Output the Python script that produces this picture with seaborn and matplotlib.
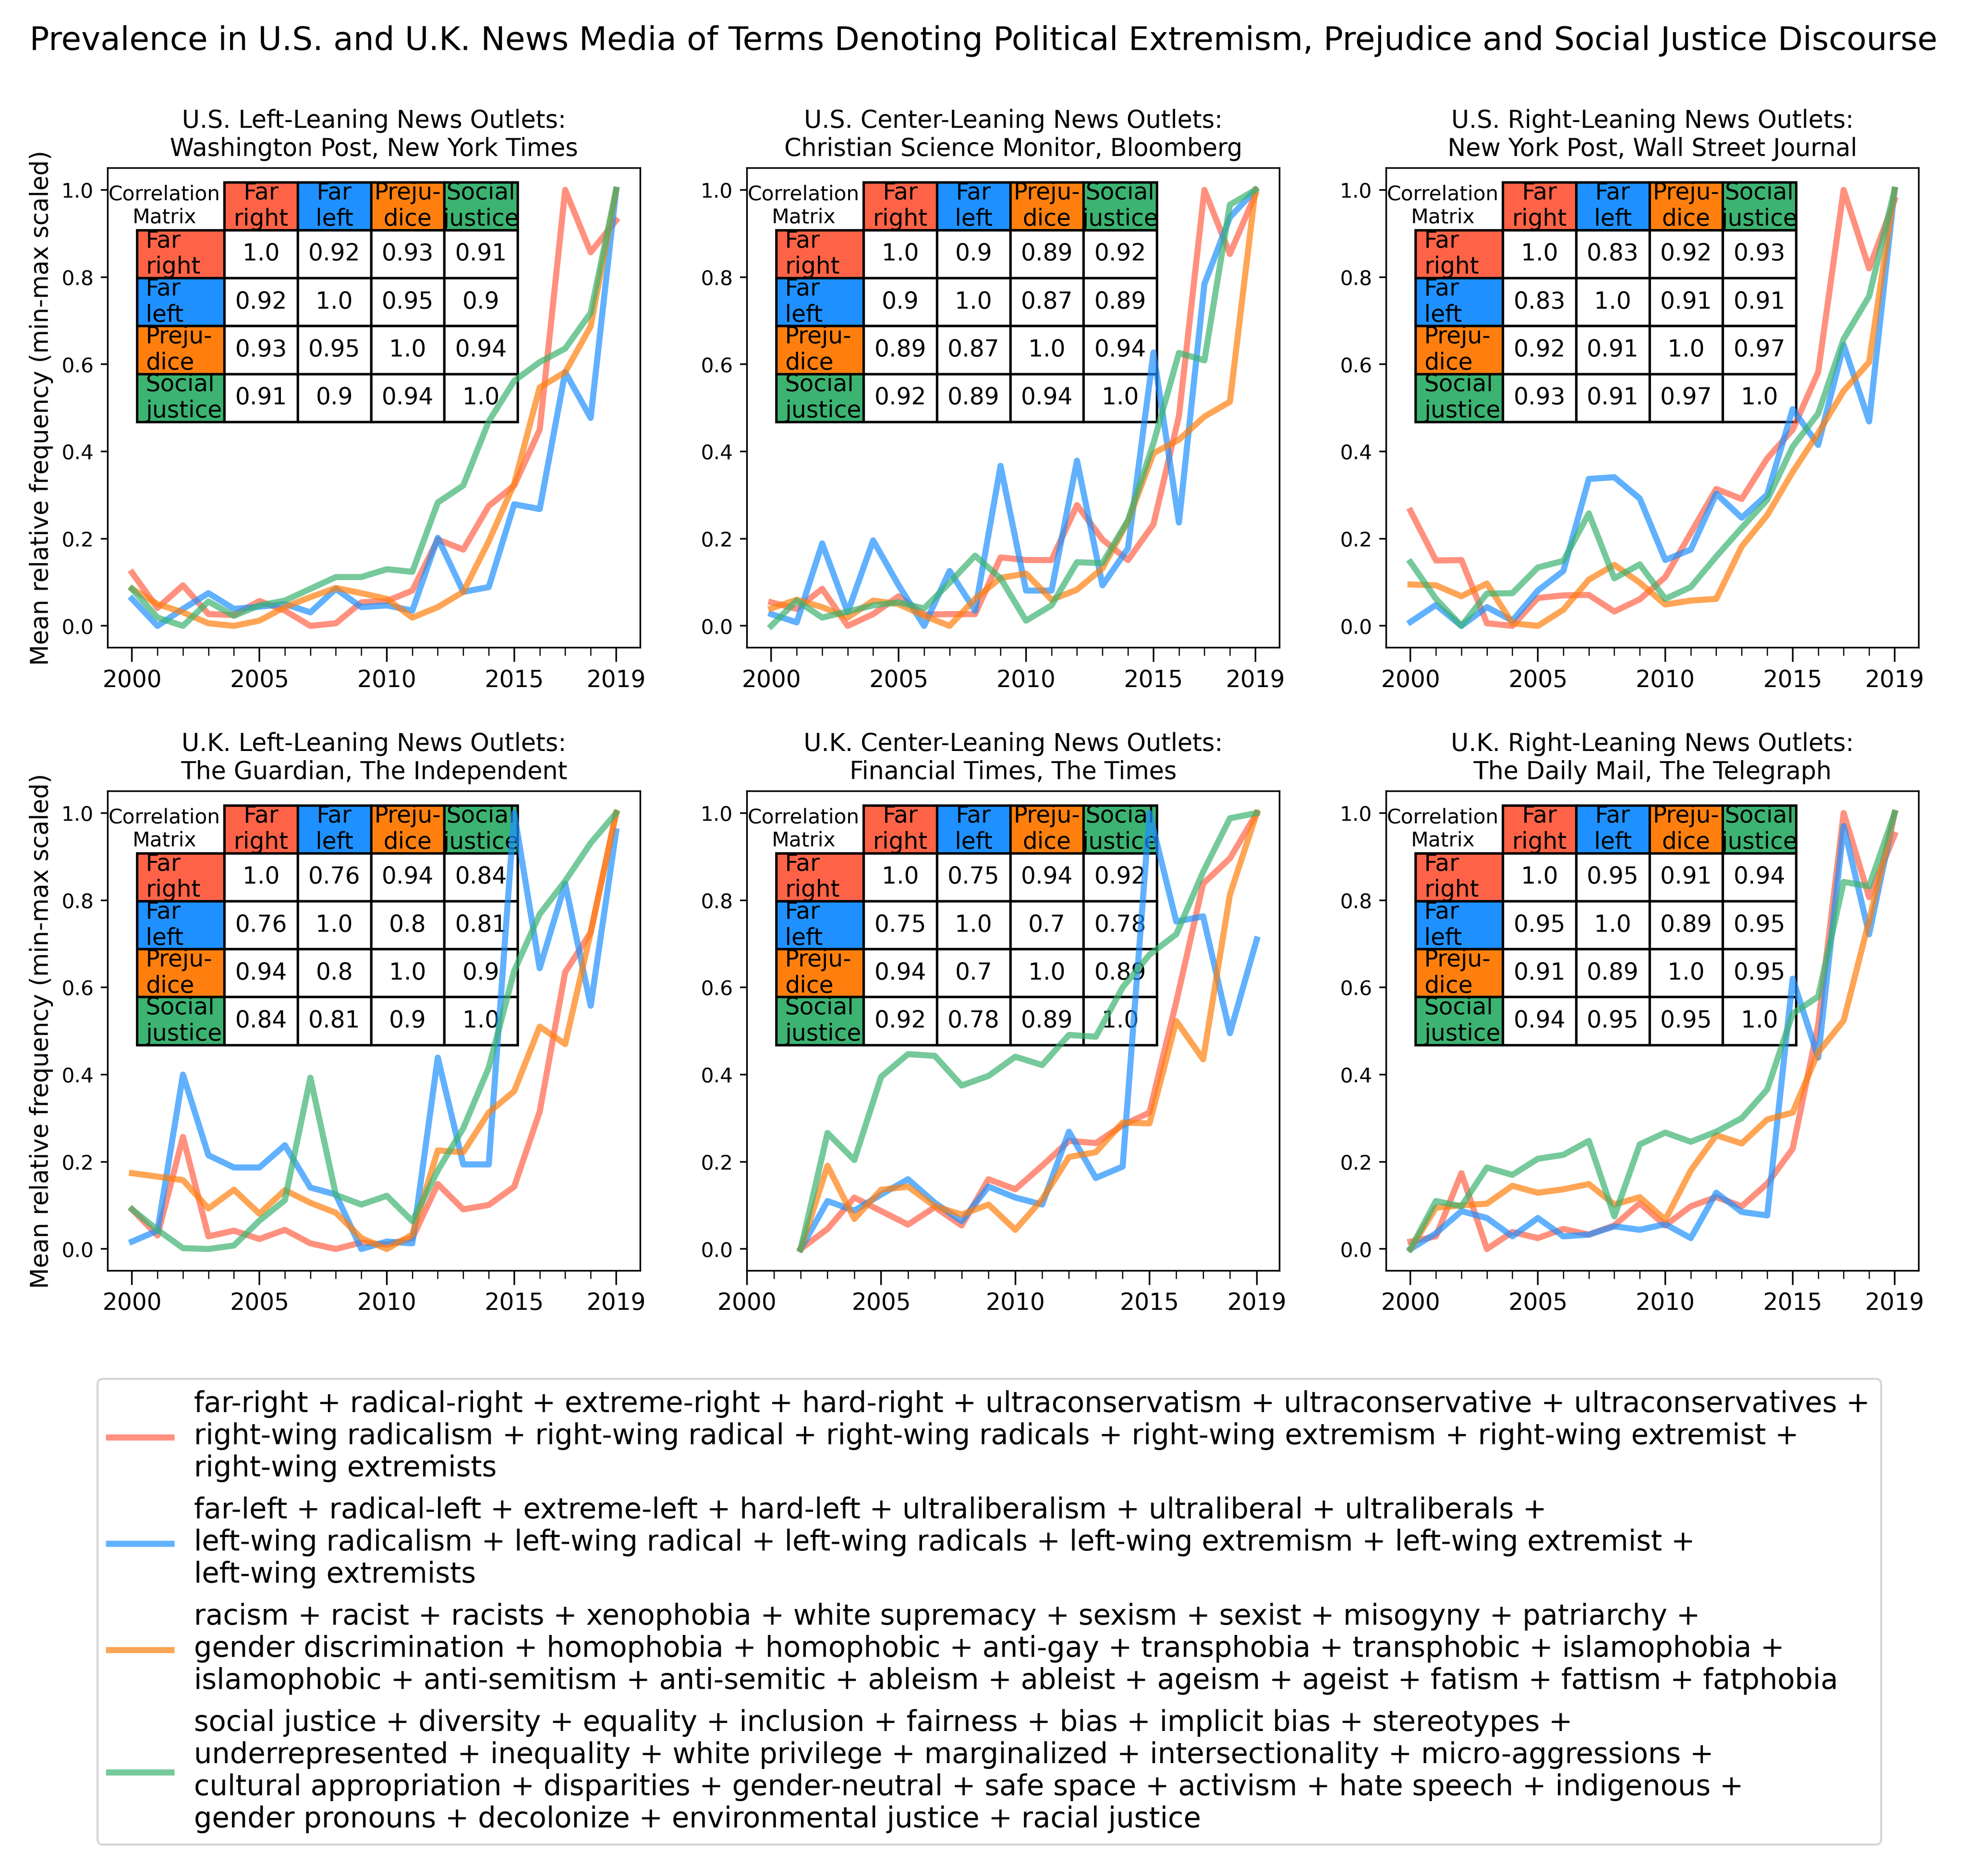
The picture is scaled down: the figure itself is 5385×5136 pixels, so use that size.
import matplotlib
matplotlib.use("Agg")
import matplotlib.pyplot as plt
from matplotlib.table import Table
from matplotlib.ticker import MultipleLocator
import seaborn as sns
import pandas as pd

# ---------------- data ----------------
years_full = list(range(2000, 2020))
years_uk_center = list(range(2002, 2020))

terms = ["Far right", "Far left", "Prejudice", "Social justice"]
header_labels = ["Far\nright", "Far\nleft", "Preju-\ndice", "Social\njustice"]
colors = ["#FF6347", "#1E90FF", "#FF7F0E", "#3CB371"]

panel_titles = [
    "U.S. Left-Leaning News Outlets:\nWashington Post, New York Times",
    "U.S. Center-Leaning News Outlets:\nChristian Science Monitor, Bloomberg",
    "U.S. Right-Leaning News Outlets:\nNew York Post, Wall Street Journal",
    "U.K. Left-Leaning News Outlets:\nThe Guardian, The Independent",
    "U.K. Center-Leaning News Outlets:\nFinancial Times, The Times",
    "U.K. Right-Leaning News Outlets:\nThe Daily Mail, The Telegraph",
]

# U.S. left
us_left_far_right = [0.122, 0.041, 0.093, 0.027, 0.025, 0.057, 0.035, 0.0, 0.006, 0.054, 0.057, 0.081, 0.198, 0.175, 0.275, 0.322, 0.45, 1.0, 0.857, 0.93]
us_left_far_left = [0.062, 0.0, 0.039, 0.075, 0.039, 0.044, 0.05, 0.031, 0.085, 0.043, 0.047, 0.035, 0.202, 0.078, 0.089, 0.279, 0.268, 0.582, 0.477, 1.0]
us_left_prejudice = [0.085, 0.05, 0.031, 0.006, 0.0, 0.012, 0.043, 0.066, 0.087, 0.075, 0.062, 0.019, 0.043, 0.078, 0.194, 0.326, 0.547, 0.582, 0.687, 1.0]
us_left_social = [0.085, 0.019, 0.0, 0.056, 0.023, 0.047, 0.058, 0.085, 0.112, 0.112, 0.13, 0.124, 0.283, 0.322, 0.469, 0.562, 0.605, 0.636, 0.718, 1.0]

# U.S. center
us_center_far_right = [0.054, 0.039, 0.085, 0.0, 0.027, 0.068, 0.026, 0.027, 0.027, 0.157, 0.151, 0.151, 0.277, 0.198, 0.151, 0.233, 0.481, 1.0, 0.853, 0.99]
us_center_far_left = [0.027, 0.008, 0.189, 0.031, 0.196, 0.093, 0.0, 0.126, 0.035, 0.367, 0.081, 0.081, 0.379, 0.093, 0.178, 0.627, 0.237, 0.784, 0.937, 1.0]
us_center_prejudice = [0.04, 0.06, 0.043, 0.019, 0.058, 0.05, 0.023, 0.0, 0.062, 0.11, 0.12, 0.06, 0.083, 0.132, 0.24, 0.396, 0.427, 0.48, 0.514, 1.0]
us_center_social = [0.0, 0.058, 0.019, 0.033, 0.047, 0.054, 0.04, 0.099, 0.161, 0.109, 0.012, 0.047, 0.146, 0.144, 0.242, 0.419, 0.626, 0.609, 0.966, 1.0]

# U.S. right
us_right_far_right = [0.264, 0.15, 0.151, 0.006, 0.0, 0.064, 0.07, 0.071, 0.033, 0.061, 0.112, 0.213, 0.314, 0.291, 0.384, 0.45, 0.582, 1.0, 0.82, 0.977]
us_right_far_left = [0.009, 0.048, 0.0, 0.043, 0.012, 0.081, 0.126, 0.337, 0.341, 0.292, 0.151, 0.175, 0.303, 0.248, 0.301, 0.497, 0.415, 0.644, 0.469, 1.0]
us_right_prejudice = [0.095, 0.093, 0.068, 0.097, 0.006, 0.0, 0.037, 0.106, 0.14, 0.099, 0.049, 0.058, 0.062, 0.182, 0.254, 0.353, 0.442, 0.539, 0.605, 1.0]
us_right_social = [0.146, 0.062, 0.0, 0.074, 0.075, 0.134, 0.149, 0.258, 0.109, 0.141, 0.062, 0.089, 0.159, 0.225, 0.289, 0.411, 0.487, 0.658, 0.756, 1.0]

# U.K. left
uk_left_far_right = [0.091, 0.031, 0.257, 0.029, 0.042, 0.023, 0.044, 0.013, 0.0, 0.015, 0.01, 0.025, 0.149, 0.091, 0.101, 0.143, 0.315, 0.635, 0.726, 1.0]
uk_left_far_left = [0.017, 0.042, 0.4, 0.215, 0.187, 0.187, 0.238, 0.141, 0.125, 0.0, 0.017, 0.013, 0.439, 0.194, 0.194, 1.0, 0.644, 0.838, 0.558, 0.958]
uk_left_prejudice = [0.174, 0.166, 0.158, 0.093, 0.136, 0.081, 0.135, 0.106, 0.083, 0.025, 0.0, 0.033, 0.226, 0.222, 0.313, 0.362, 0.51, 0.47, 0.726, 1.0]
uk_left_social = [0.091, 0.044, 0.002, 0.0, 0.008, 0.065, 0.112, 0.393, 0.124, 0.102, 0.122, 0.064, 0.18, 0.277, 0.416, 0.638, 0.768, 0.844, 0.931, 1.0]

# U.K. center (2002-2019)
uk_center_far_right = [0.0, 0.046, 0.118, 0.087, 0.056, 0.096, 0.054, 0.16, 0.137, 0.191, 0.248, 0.243, 0.284, 0.313, 0.567, 0.838, 0.896, 1.0]
uk_center_far_left = [0.0, 0.11, 0.088, 0.125, 0.16, 0.106, 0.064, 0.143, 0.118, 0.102, 0.269, 0.163, 0.189, 1.0, 0.751, 0.763, 0.495, 0.71]
uk_center_prejudice = [0.0, 0.191, 0.069, 0.136, 0.143, 0.098, 0.079, 0.102, 0.044, 0.114, 0.211, 0.222, 0.29, 0.288, 0.523, 0.435, 0.813, 1.0]
uk_center_social = [0.0, 0.266, 0.204, 0.395, 0.447, 0.443, 0.375, 0.397, 0.441, 0.422, 0.491, 0.487, 0.6, 0.675, 0.722, 0.865, 0.988, 1.0]

# U.K. right
uk_right_far_right = [0.017, 0.029, 0.174, 0.0, 0.039, 0.025, 0.046, 0.033, 0.054, 0.105, 0.054, 0.098, 0.119, 0.098, 0.15, 0.23, 0.513, 1.0, 0.807, 0.95]
uk_right_far_left = [0.0, 0.036, 0.087, 0.071, 0.029, 0.071, 0.029, 0.033, 0.052, 0.044, 0.057, 0.025, 0.129, 0.085, 0.077, 0.62, 0.439, 0.97, 0.722, 1.0]
uk_right_prejudice = [0.0, 0.095, 0.1, 0.104, 0.145, 0.129, 0.137, 0.149, 0.102, 0.119, 0.067, 0.18, 0.261, 0.242, 0.297, 0.313, 0.451, 0.524, 0.753, 1.0]
uk_right_social = [0.0, 0.11, 0.098, 0.187, 0.17, 0.207, 0.216, 0.248, 0.075, 0.24, 0.267, 0.246, 0.269, 0.3, 0.366, 0.54, 0.579, 0.842, 0.832, 1.0]

# correlation matrices
corr_us_left = [[1.0, 0.92, 0.93, 0.91], [0.92, 1.0, 0.95, 0.9], [0.93, 0.95, 1.0, 0.94], [0.91, 0.9, 0.94, 1.0]]
corr_us_center = [[1.0, 0.9, 0.89, 0.92], [0.9, 1.0, 0.87, 0.89], [0.89, 0.87, 1.0, 0.94], [0.92, 0.89, 0.94, 1.0]]
corr_us_right = [[1.0, 0.83, 0.92, 0.93], [0.83, 1.0, 0.91, 0.91], [0.92, 0.91, 1.0, 0.97], [0.93, 0.91, 0.97, 1.0]]
corr_uk_left = [[1.0, 0.76, 0.94, 0.84], [0.76, 1.0, 0.8, 0.81], [0.94, 0.8, 1.0, 0.9], [0.84, 0.81, 0.9, 1.0]]
corr_uk_center = [[1.0, 0.75, 0.94, 0.92], [0.75, 1.0, 0.7, 0.78], [0.94, 0.7, 1.0, 0.89], [0.92, 0.78, 0.89, 1.0]]
corr_uk_right = [[1.0, 0.95, 0.91, 0.94], [0.95, 1.0, 0.89, 0.95], [0.91, 0.89, 1.0, 0.95], [0.94, 0.95, 0.95, 1.0]]

legend_labels = [
    "far-right + radical-right + extreme-right + hard-right + ultraconservatism + ultraconservative + ultraconservatives +\n"
    "right-wing radicalism + right-wing radical + right-wing radicals + right-wing extremism + right-wing extremist +\n"
    "right-wing extremists",
    "far-left + radical-left + extreme-left + hard-left + ultraliberalism + ultraliberal + ultraliberals +\n"
    "left-wing radicalism + left-wing radical + left-wing radicals + left-wing extremism + left-wing extremist +\n"
    "left-wing extremists",
    "racism + racist + racists + xenophobia + white supremacy + sexism + sexist + misogyny + patriarchy +\n"
    "gender discrimination + homophobia + homophobic + anti-gay + transphobia + transphobic + islamophobia +\n"
    "islamophobic + anti-semitism + anti-semitic + ableism + ableist + ageism + ageist + fatism + fattism + fatphobia",
    "social justice + diversity + equality + inclusion + fairness + bias + implicit bias + stereotypes +\n"
    "underrepresented + inequality + white privilege + marginalized + intersectionality + micro-aggressions +\n"
    "cultural appropriation + disparities + gender-neutral + safe space + activism + hate speech + indigenous +\n"
    "gender pronouns + decolonize + environmental justice + racial justice",
]

panels = [
    (years_full, [us_left_far_right, us_left_far_left, us_left_prejudice, us_left_social], corr_us_left),
    (years_full, [us_center_far_right, us_center_far_left, us_center_prejudice, us_center_social], corr_us_center),
    (years_full, [us_right_far_right, us_right_far_left, us_right_prejudice, us_right_social], corr_us_right),
    (years_full, [uk_left_far_right, uk_left_far_left, uk_left_prejudice, uk_left_social], corr_uk_left),
    (years_uk_center, [uk_center_far_right, uk_center_far_left, uk_center_prejudice, uk_center_social], corr_uk_center),
    (years_full, [uk_right_far_right, uk_right_far_left, uk_right_prejudice, uk_right_social], corr_uk_right),
]

# ---------------- figure ----------------
DPI = 400
fig, axes = plt.subplots(2, 3, figsize=(5385 / DPI, 5136 / DPI), dpi=DPI)
fig.subplots_adjust(left=0.0548, right=0.9755, top=0.9104, bottom=0.3226,
                    wspace=0.2003, hspace=0.2993)
palette = dict(zip(terms, colors))

for i, (ax, (yrs, series, corr)) in enumerate(zip(axes.flat, panels)):
    rows = []
    for term, vals in zip(terms, series):
        for y, v in zip(yrs, vals):
            rows.append({"year": y, "value": v, "term": term})
    df = pd.DataFrame(rows)
    sns.lineplot(data=df, x="year", y="value", hue="term", hue_order=terms,
                 palette=palette, alpha=0.7, linewidth=3, legend=False, ax=ax)

    ax.set_title(panel_titles[i], fontsize=12)
    ax.set_xlabel("")
    if i % 3 == 0:
        ax.set_ylabel("Mean relative frequency (min-max scaled)", fontsize=12)
    else:
        ax.set_ylabel("")
    ax.set_yticks([0.0, 0.2, 0.4, 0.6, 0.8, 1.0])
    ax.set_xticks([2000, 2005, 2010, 2015, 2019])
    ax.xaxis.set_minor_locator(MultipleLocator(1))
    ax.tick_params(axis="x", which="major", length=7, labelsize=11.5)
    ax.tick_params(axis="x", which="minor", length=4)
    ax.tick_params(axis="y", labelsize=10)

    # correlation matrix table
    tb = Table(ax, bbox=[0.055, 0.471, 0.7145, 0.4997])
    lab_w, val_w, h = 0.164, 0.1377, 0.1
    for c, lab in enumerate(header_labels):
        tb.add_cell(0, c + 1, width=val_w, height=h, text=lab, loc="center",
                    facecolor=colors[c])
    for r, lab in enumerate(header_labels):
        tb.add_cell(r + 1, 0, width=lab_w, height=h, text=lab, loc="left",
                    facecolor=colors[r])
        for c in range(4):
            tb.add_cell(r + 1, c + 1, width=val_w, height=h, text=str(corr[r][c]),
                        loc="center", facecolor="white")
    tb.auto_set_font_size(False)
    tb.set_fontsize(11.5)
    for cell in tb.get_celld().values():
        cell.set_linewidth(1.2)
    ax.add_table(tb)
    ax.text(0.106, 0.9207, "Correlation\nMatrix", transform=ax.transAxes,
            ha="center", va="center", fontsize=10, multialignment="center")

handles = axes.flat[0].get_lines()[:4]
fig.legend(handles, legend_labels, loc="upper center", bbox_to_anchor=(0.503, 0.265),
           borderaxespad=0, fontsize=14, handlelength=2.2, ncol=1)

fig.suptitle("Prevalence in U.S. and U.K. News Media of Terms Denoting Political Extremism, "
             "Prejudice and Social Justice Discourse", fontsize=16, y=0.978, va="center")

fig.savefig("out.png", dpi=DPI)
